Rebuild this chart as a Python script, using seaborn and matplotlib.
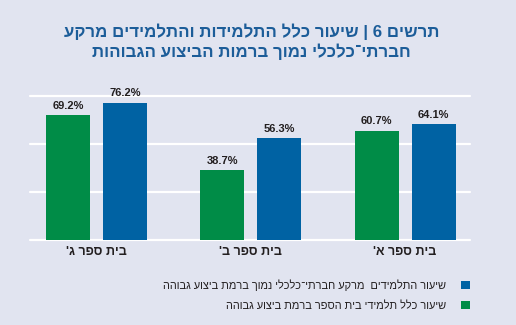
import matplotlib
matplotlib.use("Agg")
import matplotlib.pyplot as plt
from matplotlib.patches import Patch
import pandas as pd
import seaborn as sns

# Data
schools = ["בית ספר ג'", "בית ספר ב'", "בית ספר א'"]
series_all = "שיעור כלל תלמידי בית הספר ברמת ביצוע גבוהה"
series_low = "שיעור התלמידים  מרקע חברתי־כלכלי נמוך ברמת ביצוע גבוהה"
all_students = [69.2, 38.7, 60.7]
low_ses = [76.2, 56.3, 64.1]
title_lines = ["תרשים 6 | שיעור כלל התלמידות והתלמידים מרקע",
               "חברתי־כלכלי נמוך ברמות הביצוע הגבוהות"]

BG = "#e1e4f0"
GREEN = "#008c47"
BLUE = "#0062a3"
TITLE_COLOR = "#1c5d99"
TEXT = "#231f20"


def rtl(s):
    """Hebrew text laid out in visual (left-to-right) order."""
    return s[::-1]


df = pd.DataFrame({
    "school": schools * 2,
    "series": [series_all] * len(schools) + [series_low] * len(schools),
    "value": all_students + low_ses,
})

sns.set_theme(style="white")
plt.rcParams["font.family"] = ["Liberation Sans", "DejaVu Sans"]

fig = plt.figure(figsize=(5.16, 3.25), dpi=100, facecolor=BG)
ax = fig.add_axes([30 / 516, 1 - 240 / 325, 440 / 516, (240 - 95.7) / 325])
ax.set_facecolor(BG)

sns.barplot(data=df, x="school", y="value", hue="series",
            order=schools, hue_order=[series_all, series_low],
            palette=[GREEN, BLUE], width=0.738, gap=0.228,
            saturation=1, legend=False, ax=ax, zorder=3,
            linewidth=0, edgecolor="none")

for cont, vals in zip(ax.containers, [all_students, low_ses]):
    ax.bar_label(cont, labels=[f"{v:.1f}%" for v in vals], padding=3,
                 fontsize=8, fontweight="bold", color=TEXT, clip_on=False)

ax.set_ylim(0, 80)
ax.set_xlim(-0.43, 2.42)
ax.set_yticks([0, 80 / 3, 160 / 3, 80])
ax.set_yticklabels([])
ax.grid(axis="y", color="white", linewidth=1.6)
ax.grid(axis="x", visible=False)
for gl in ax.get_ygridlines():
    gl.set_clip_on(False)
ax.set_axisbelow(True)
for sp in ax.spines.values():
    sp.set_visible(False)

ax.set_xticks(range(len(schools)))
ax.set_xticklabels([rtl(s) for s in schools], fontsize=9, fontweight="bold",
                   color=TEXT)
ax.tick_params(axis="both", length=0)
ax.tick_params(axis="x", pad=4)
ax.set_xlabel("")
ax.set_ylabel("")

for i, line in enumerate(title_lines):
    fig.text(0.488, 1 - (32 + 20 * i) / 325, rtl(line), ha="center",
             va="center", fontsize=12.2, fontweight="bold", color=TITLE_COLOR)

handles = [Patch(facecolor=BLUE, edgecolor="none"),
           Patch(facecolor=GREEN, edgecolor="none")]
fig.legend(handles, [rtl(series_low), rtl(series_all)],
           loc="upper right", bbox_to_anchor=(470 / 516, 1 - 279 / 325),
           markerfirst=False, frameon=False, fontsize=7.9,
           handlelength=0.8, handleheight=0.8, handletextpad=1.4,
           labelspacing=0.95, borderpad=0, borderaxespad=0,
           labelcolor=TEXT)

fig.savefig("out.png", dpi=100, facecolor=BG)
